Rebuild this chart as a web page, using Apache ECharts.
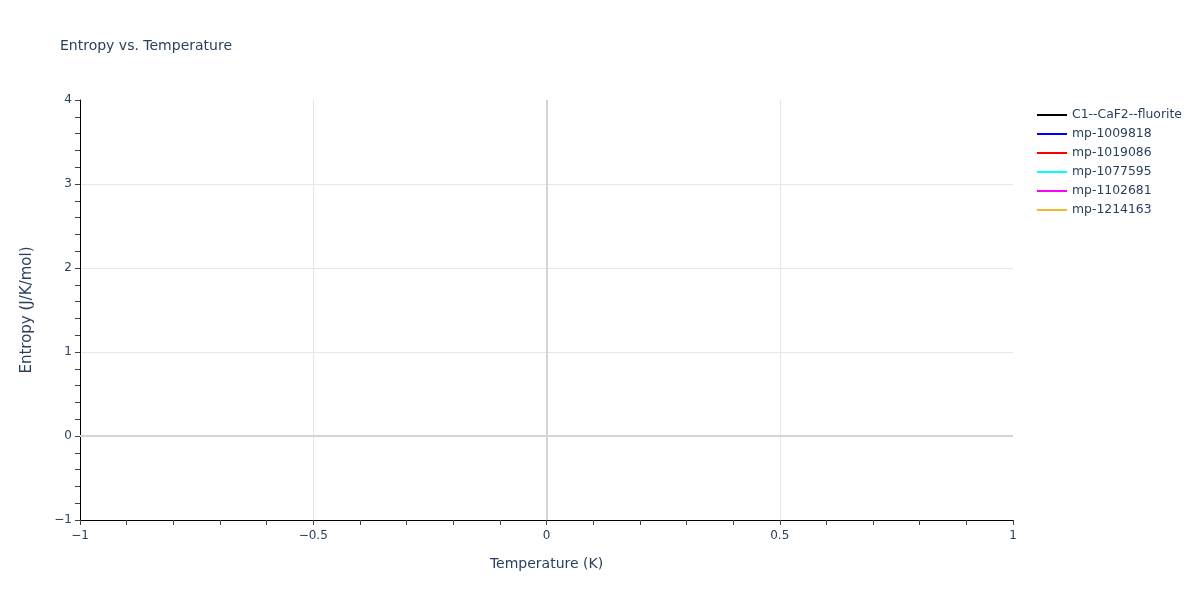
<!DOCTYPE html>
<html>
<head>
<meta charset="utf-8">
<script src="https://cdn.jsdelivr.net/npm/echarts@6/dist/echarts.min.js"></script>
<style>html,body{margin:0;padding:0;background:#fff}#c{width:1200px;height:600px}</style>
</head>
<body>
<div id="c"></div>
<script>
const seriesNames = ['C1--CaF2--fluorite','mp-1009818','mp-1019086','mp-1077595','mp-1102681','mp-1214163'];
const seriesColors = ['#000000','#0000ff','#ff0000','#00ffff','#ff00ff','#f0b929'];
const temperatures = [];
const entropyC1 = [];
const entropy1009818 = [];
const entropy1019086 = [];
const entropy1077595 = [];
const entropy1102681 = [];
const entropy1214163 = [];
const seriesValues = [entropyC1, entropy1009818, entropy1019086, entropy1077595, entropy1102681, entropy1214163];
const xRange = [-1, 1];
const yRange = [-1, 4];

const font = '"DejaVu Sans", verdana, sans-serif';
const txt = '#2a3f5f';
const fmt = v => String(v).replace('-', '\u2212');

const chart = echarts.init(document.getElementById('c'));
const series = seriesNames.map((n, i) => ({
  name: n,
  type: 'line',
  showSymbol: false,
  lineStyle: { width: 2, color: seriesColors[i] },
  itemStyle: { color: seriesColors[i] },
  data: seriesValues[i].map((v, j) => [temperatures[j], v])
}));
series[0].markLine = {
  silent: true,
  symbol: 'none',
  label: { show: false },
  lineStyle: { color: '#d4d4d4', width: 2, type: 'solid' },
  data: [{ xAxis: 0 }, { yAxis: 0 }]
};

chart.setOption({
  animation: false,
  backgroundColor: '#fff',
  title: {
    text: 'Entropy vs. Temperature',
    left: 60, top: 39, padding: 0,
    textStyle: { fontFamily: font, fontSize: 14, fontWeight: 'normal', color: txt }
  },
  legend: {
    orient: 'vertical',
    left: 1037, top: 109, padding: 0,
    itemWidth: 30, itemHeight: 2, itemGap: 7,
    icon: 'rect',
    textStyle: { fontFamily: font, fontSize: 12.4, color: txt },
    data: seriesNames
  },
  grid: { left: 80, right: 187, top: 100, bottom: 80 },
  xAxis: {
    type: 'value', min: xRange[0], max: xRange[1], interval: 0.5,
    name: 'Temperature (K)', nameLocation: 'middle', nameGap: 37,
    nameTextStyle: { fontFamily: font, fontSize: 14, color: txt },
    axisLine: { show: true, onZero: false, lineStyle: { color: '#000', width: 1 } },
    axisTick: { show: true, length: 5, lineStyle: { color: '#444' } },
    minorTick: { show: true, splitNumber: 5, length: 5, lineStyle: { color: '#444' } },
    axisLabel: { fontFamily: font, fontSize: 12, color: txt, margin: 10, formatter: fmt },
    splitLine: { show: true, showMinLine: false, showMaxLine: false, lineStyle: { color: '#e6e6e6', width: 1 } }
  },
  yAxis: {
    type: 'value', min: yRange[0], max: yRange[1], interval: 1,
    name: 'Entropy (J/K/mol)', nameLocation: 'middle', nameGap: 45,
    nameTextStyle: { fontFamily: font, fontSize: 15, color: txt },
    axisLine: { show: true, onZero: false, lineStyle: { color: '#000', width: 1 } },
    axisTick: { show: true, length: 5, lineStyle: { color: '#444' } },
    minorTick: { show: true, splitNumber: 5, length: 5, lineStyle: { color: '#444' } },
    axisLabel: { fontFamily: font, fontSize: 12, color: txt, margin: 8, formatter: fmt },
    splitLine: { show: true, showMinLine: false, showMaxLine: false, lineStyle: { color: '#e6e6e6', width: 1 } }
  },
  series: series
});
</script>
</body>
</html>
